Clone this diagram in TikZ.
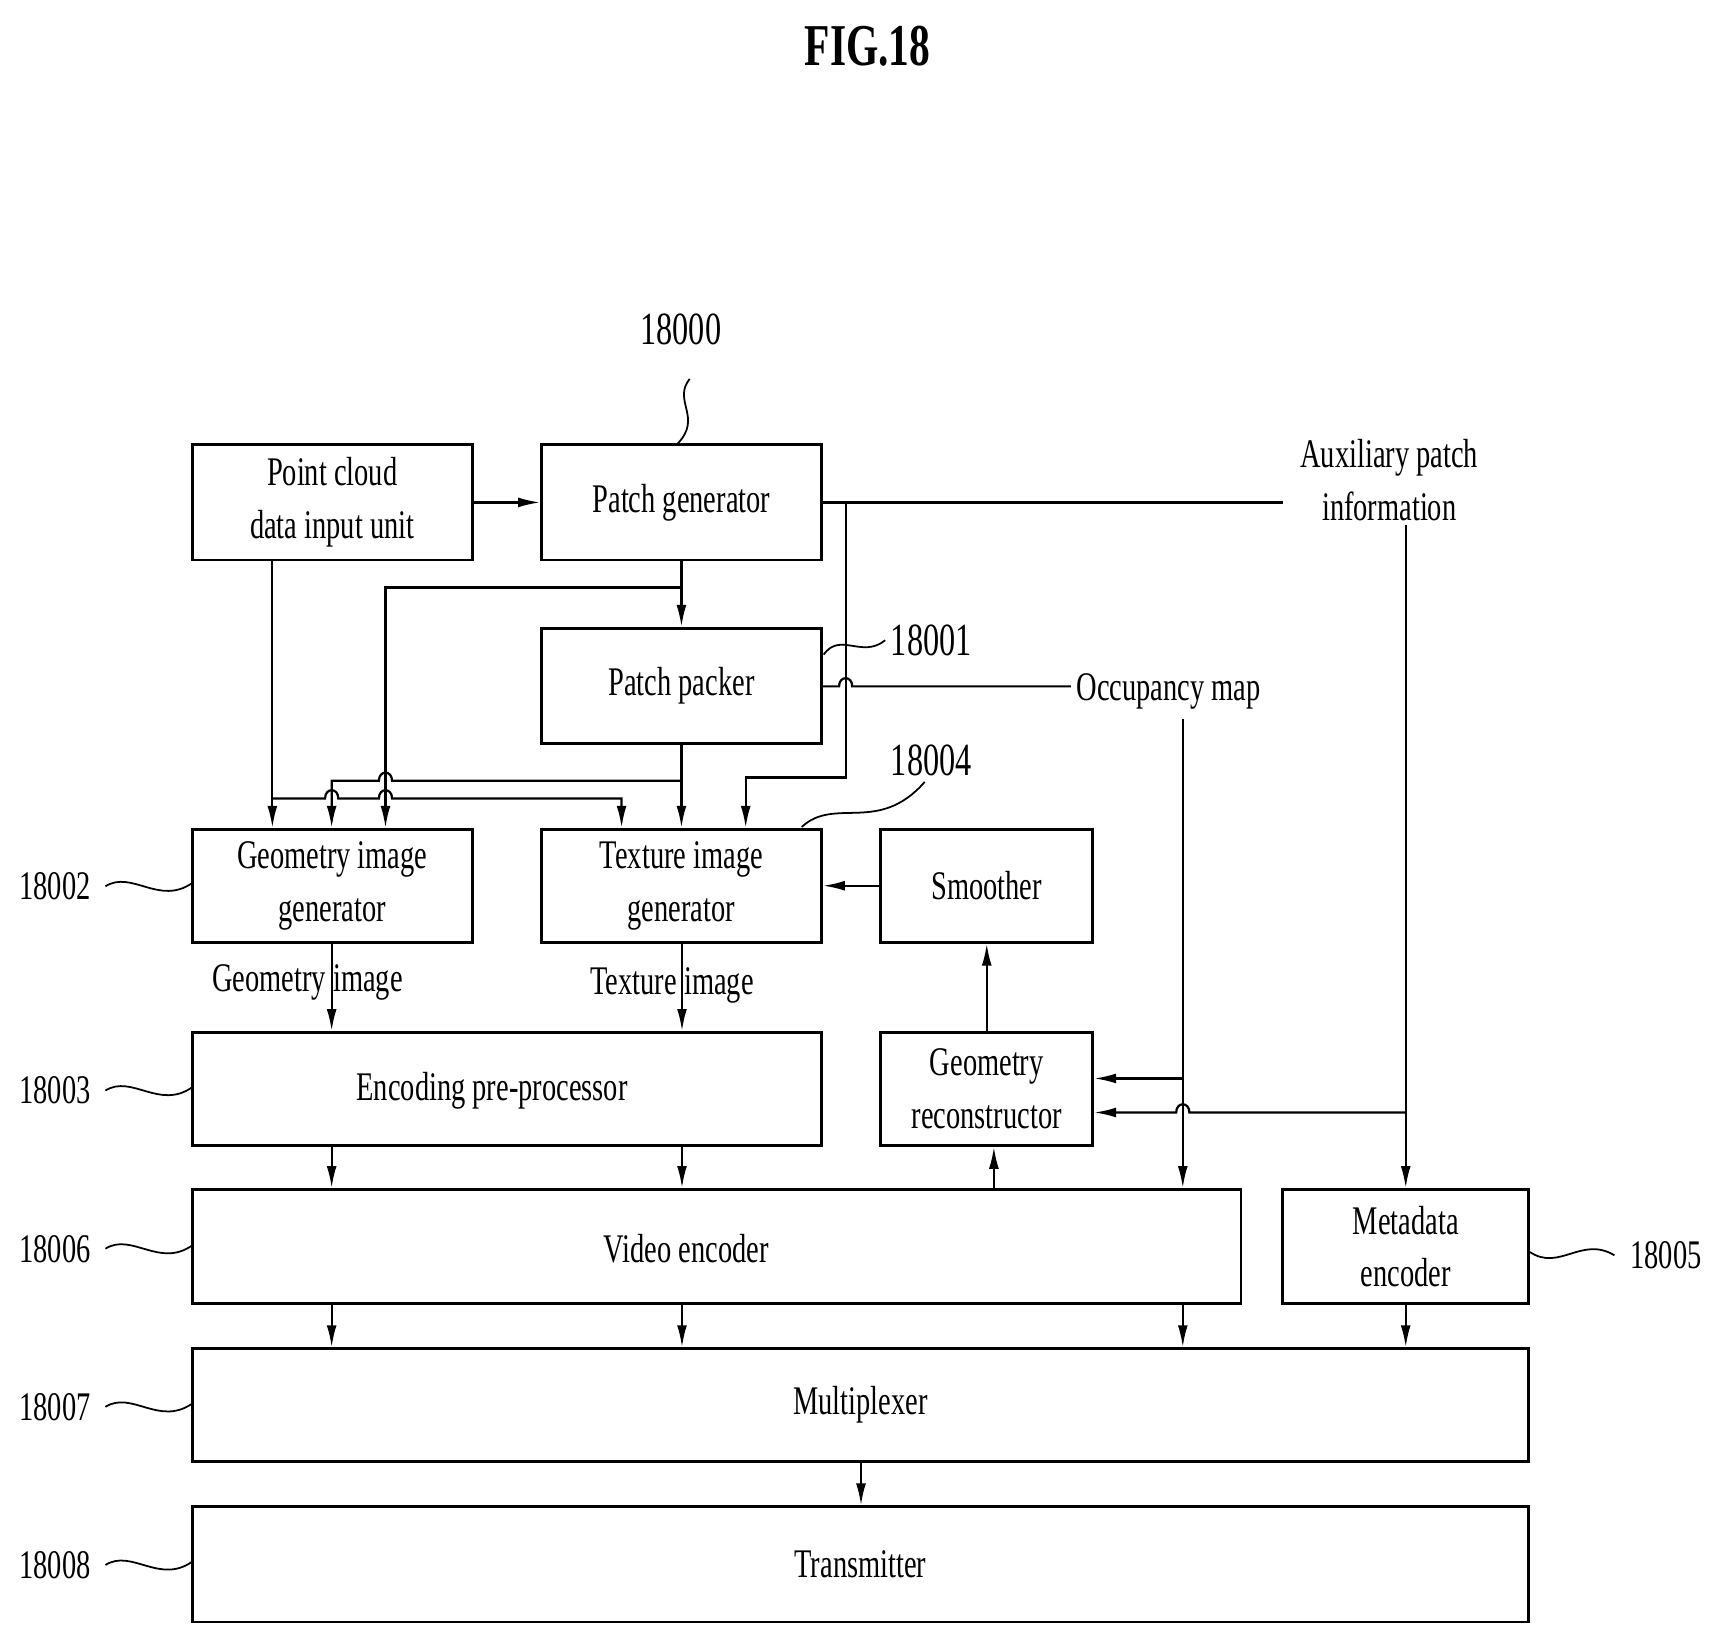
\documentclass[tikz,border=0pt]{standalone}
\usepackage{fontspec}
\setmainfont{Liberation Serif}[FakeStretch=0.7]
\usetikzlibrary{arrows.meta,decorations.pathmorphing}
\begin{document}
\begin{tikzpicture}[x=1pt,y=-1pt,
  box/.style={draw,line width=2.5pt,inner sep=0,align=center,font=\fontsize{37}{48}\selectfont},
  ln/.style={line width=2pt},
  arr/.style={ln,-{Latex[length=20pt,width=9pt]}},
  lab/.style={font=\fontsize{37}{48}\selectfont,inner sep=2pt},
  wav/.style={line width=1.6pt}]
\useasboundingbox (0,0) rectangle (1568,1497);
\node[font=\bfseries\fontsize{54}{60}\selectfont] (title) at (790,42) {FIG.18};
% boxes
\node[box,minimum width=255pt,minimum height=105pt] (pc) at (302.5,457.5) {Point cloud\\data input unit};
\node[box,minimum width=255pt,minimum height=105pt] (pg) at (620.5,457.5) {Patch generator};
\node[box,minimum width=255pt,minimum height=105pt] (pp) at (620.5,624.5) {Patch packer};
\node[box,minimum width=255pt,minimum height=103pt] (gg) at (302.5,806.5) {Geometry image\\generator};
\node[box,minimum width=255pt,minimum height=103pt] (tg) at (620.5,806.5) {Texture image\\generator};
\node[box,minimum width=193pt,minimum height=103pt] (sm) at (898.5,806.5) {Smoother};
\node[box,minimum width=573pt,minimum height=103pt] (ep) at (461.5,991.5) {};
\node[lab] (eptext) at (448,993) {Encoding pre-processor};
\node[box,minimum width=193pt,minimum height=103pt] (gr) at (898.5,991.5) {Geometry\\reconstructor};
\node[box,minimum width=955pt,minimum height=104pt] (ve) at (652.5,1135) {};
\node[lab] (vetext) at (625,1137) {Video encoder};
\node[box,minimum width=224pt,minimum height=104pt] (me) at (1280,1135) {Metadata\\encoder};
\node[box,minimum width=1217pt,minimum height=103pt] (mx) at (783.5,1279.5) {Multiplexer};
\node[box,minimum width=1217pt,minimum height=105pt] (tx) at (783.5,1424.5) {Transmitter};
% text labels
\node[lab,align=center] (aux) at (1265,437) {Auxiliary patch\\information};
\node[lab,anchor=west] (occ) at (978,630) {Occupancy map};
\node[lab] (gimg) at (280,895) {Geometry image};
\node[lab] (timg) at (612,897) {Texture image};
% reference numerals
\node[lab,font=\fontsize{42}{48}\selectfont] (n18000) at (620,300) {18000};
\node[lab,font=\fontsize{42}{48}\selectfont] (n18001) at (848,583) {18001};
\node[lab,font=\fontsize{42}{48}\selectfont] (n18004) at (848,692) {18004};
\node[lab] (n18002) at (50,807) {18002};
\node[lab] (n18003) at (50,993) {18003};
\node[lab] (n18006) at (50,1137) {18006};
\node[lab] (n18007) at (50,1281) {18007};
\node[lab] (n18008) at (50,1425) {18008};
\node[lab] (n18005) at (1517,1143) {18005};
% wavy leaders
\draw[wav] (628,345) .. controls (612,365) and (640,380) .. (617,404);
\draw[wav] (750,596) .. controls (765,575) and (785,600) .. (806,583);
\draw[wav] (730,753) .. controls (760,725) and (800,760) .. (842,712);
\foreach \yy in {807,993,1137,1281,1425}{
  \draw[wav] (96,\yy) .. controls (120,\yy-15) and (145,\yy+18) .. (175,\yy-3);}
\draw[wav] (1393,1140) .. controls (1420,1158) and (1440,1125) .. (1470,1143);
% coordinates for vertical lines
\foreach \n/\xx in {a/248,b/302,c/351,d/566,e/621,f/679,g/770,h/905,i/1077,j/1280,k/784}{
  \coordinate (x\n) at (\xx,0);}
\coordinate (j1) at (621,535);
\coordinate (j2) at (621,711);
\coordinate (j3) at (248,727);
% main flow
\draw[arr] (pc.east) -- (pg.west);
\draw[arr] (pg.south) -- (pp.north);
\draw[arr] (pp.south) -- (tg.north);
% PG -> aux line
\draw[ln] (pg.east) -- (1168,457.5);
\draw[arr] (1280,478) -- (xj |- me.north);
% PG branch down to texture
\draw[arr] (770,457.5) -- (770,708) -- (679,708) -- (xf |- tg.north);
% packer -> occupancy with hop over x=770
\draw[ln] (pp.east |- 0,625) -- (764,625) .. controls (764,615) and (776,615) .. (776,625) -- (975,625);
\draw[arr] (1077,655) -- (xi |- ve.north);
\draw[arr] (1077,982) -- (gr.east |- 0,982);
% aux to geometry reconstructor with hop over x=1077
\draw[arr] (1280,1013) -- (1083,1013) .. controls (1083,1003) and (1071,1003) .. (1071,1013) -- (gr.east |- 0,1013);
% PG bottom branch to geometry gen (x=351)
\draw[arr] (j1) -- (351,535) -- (xc |- gg.north);
% packer branch y=711 to x=302, hop over x=351
\draw[arr] (j2) -- (357,711) .. controls (357,701) and (345,701) .. (345,711) -- (302,711) -- (xb |- gg.north);
% PC bottom down to geometry, branch y=727 to texture x=566, hops at 302 and 351
\draw[arr] (pc.south -| xa) -- (xa |- gg.north);
\draw[arr] (j3) -- (296,727) .. controls (296,717) and (308,717) .. (308,727) -- (345,727)
  .. controls (345,717) and (357,717) .. (357,727) -- (566,727) -- (xd |- tg.north);
% smoother / reconstructor
\draw[arr] (sm.west) -- (tg.east |- sm.west);
\draw[arr] (gr.north) -- (sm.south);
\draw[arr] (xh |- ve.north) -- (xh |- gr.south);
% generators to pre-processor
\draw[arr] (xb |- gg.south) -- (xb |- ep.north);
\draw[arr] (xe |- tg.south) -- (xe |- ep.north);
% pre-processor to video encoder
\draw[arr] (xb |- ep.south) -- (xb |- ve.north);
\draw[arr] (xe |- ep.south) -- (xe |- ve.north);
% video encoder to mux
\draw[arr] (xb |- ve.south) -- (xb |- mx.north);
\draw[arr] (xe |- ve.south) -- (xe |- mx.north);
\draw[arr] (xi |- ve.south) -- (xi |- mx.north);
\draw[arr] (xj |- me.south) -- (xj |- mx.north);
\draw[arr] (xk |- mx.south) -- (xk |- tx.north);
\end{tikzpicture}
\end{document}
